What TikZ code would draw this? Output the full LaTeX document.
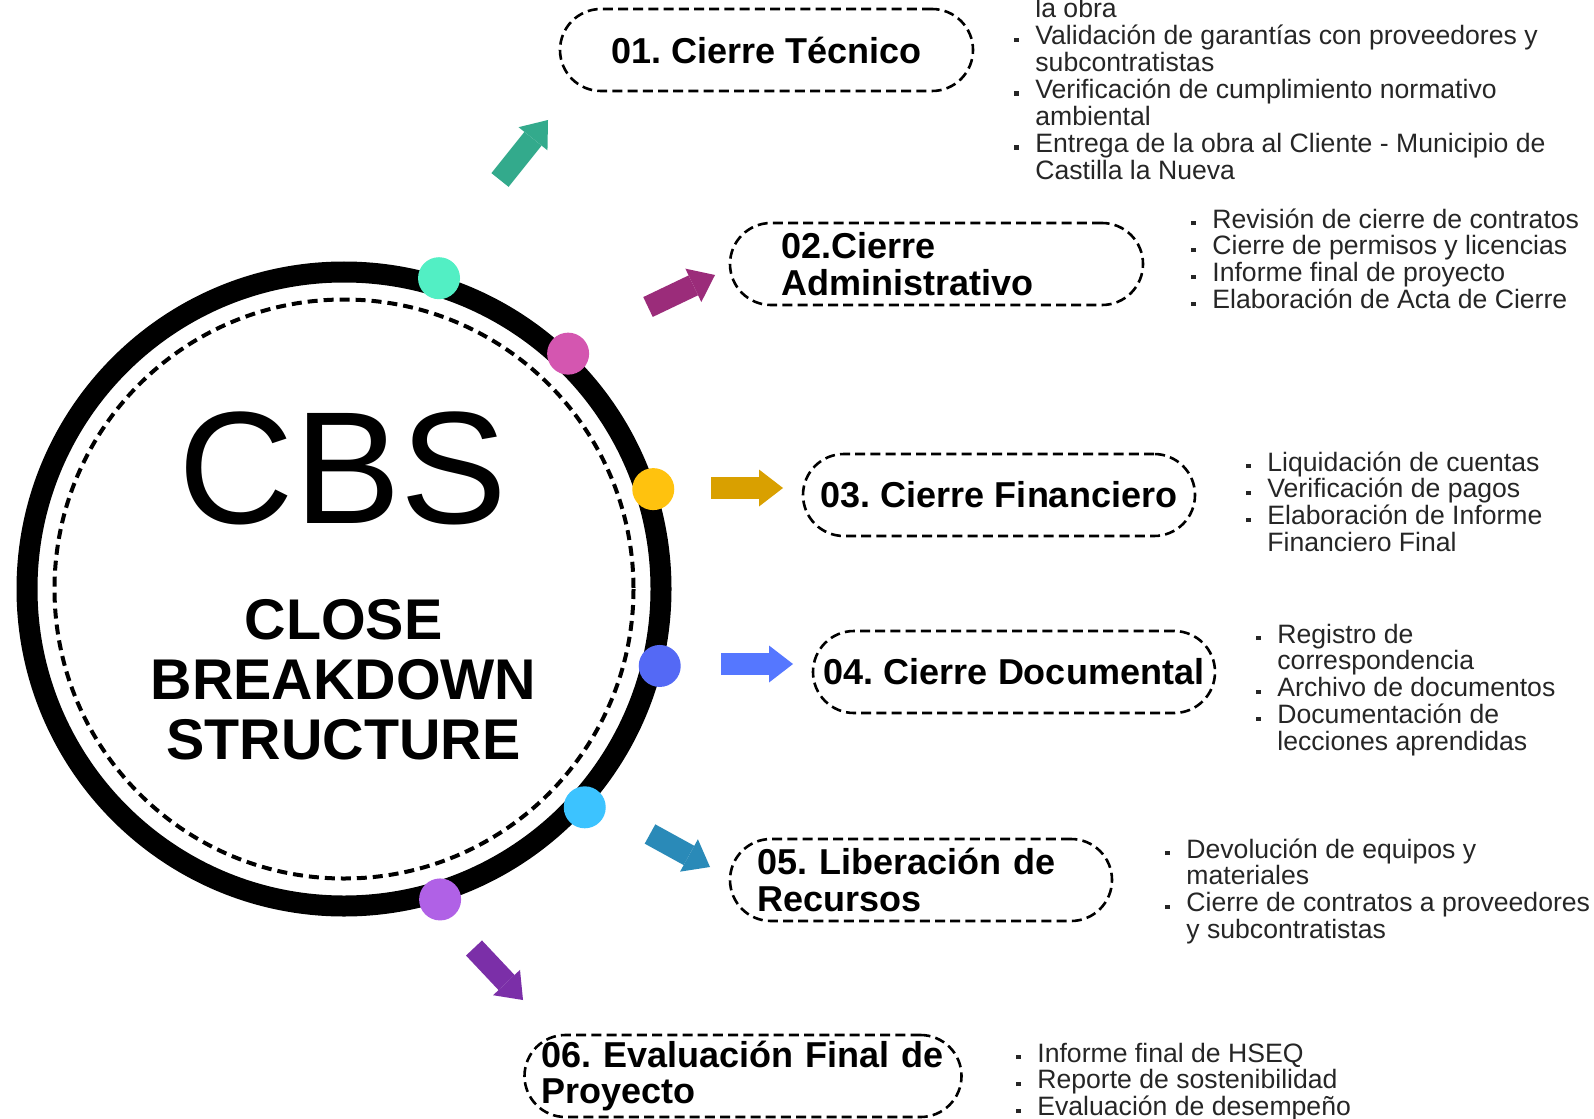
\documentclass[tikz,border=0pt]{standalone}
\usepackage{fontspec}
\setmainfont{Liberation Sans}
\usepackage{graphicx}
\usetikzlibrary{arrows.meta}
\frenchspacing

\definecolor{dotteal}{HTML}{52EFC4}
\definecolor{dotpink}{HTML}{D456B0}
\definecolor{dotgold}{HTML}{FFC20E}
\definecolor{dotblue}{HTML}{5469F5}
\definecolor{dotcyan}{HTML}{3CC3FF}
\definecolor{dotviolet}{HTML}{B061E6}
\definecolor{arrteal}{HTML}{33AA8C}
\definecolor{arrplum}{HTML}{9B2C7A}
\definecolor{arrgold}{HTML}{D9A000}
\definecolor{arrblue}{HTML}{5577FF}
\definecolor{arrsteel}{HTML}{2A8AB8}
\definecolor{arrviolet}{HTML}{7B2FA8}

% list rows: bulleted item and continuation line
\newcommand{\bul}{\makebox[10.5pt][l]{\raisebox{1.4pt}{\rule{2.2pt}{2.2pt}}}}
\newcommand{\itm}[1]{\bul&\smash{#1}}
\newcommand{\cnt}[1]{&\smash{#1}}

\begin{document}
\begin{tikzpicture}[x=0.5pt,y=-0.5pt,
  phase/.style={draw,line width=1.3pt,dash pattern=on 5pt off 2.6pt,rounded corners=20.5pt,
    inner sep=0pt,minimum height=41pt,font=\bfseries\fontsize{18}{18.3}\selectfont},
  tasks/.style={inner sep=0pt,anchor=base west,text=black!85,font=\fontsize{13.3}{13.45}\selectfont},
  dot/.style={circle,fill=#1,minimum size=21pt,inner sep=0pt},
  blk/.style={draw=#1,line width=11pt,-{Triangle[length=12pt,width=18.5pt,line width=0pt]}}]
\useasboundingbox[fill=white] (0,0) rectangle (1594,1118);

% central ring
\coordinate (c) at (344,589);
\draw[line width=10.5pt] (c) circle (317);
\draw[line width=2pt,dash pattern=on 5pt off 3pt] (c) circle (289.5);
\node[anchor=base,font=\fontsize{80}{80}\selectfont] (cbs) at (343,523) {CBS};
\node[align=center,font=\bfseries\fontsize{28.7}{30}\selectfont] (cbsname) at (343.5,680) {CLOSE\\BREAKDOWN\\STRUCTURE};

% dots on the ring
\foreach \a/\col [count=\i] in {-73/dotteal,-46.4/dotpink,-17.9/dotgold,13.7/dotblue,42.2/dotcyan,72.8/dotviolet}
  \node[dot=\col] (d\i) at ([shift={(\a:325)}]c) {};

% block arrows
\coordinate (t1) at (500,180);  \coordinate (h1) at (548,120);
\coordinate (t2) at (648,307);  \coordinate (h2) at (715,275);
\coordinate (t3) at (711,488);  \coordinate (h3) at (783,488);
\coordinate (t4) at (721,664);  \coordinate (h4) at (793,664);
\coordinate (t5) at (650,834);  \coordinate (h5) at (710,867);
\coordinate (t6) at (474,948);  \coordinate (h6) at (523,1000);
\draw[blk=arrteal] (t1) -- (h1);
\draw[blk=arrplum] (t2) -- (h2);
\draw[blk=arrgold] (t3) -- (h3);
\draw[blk=arrblue] (t4) -- (h4);
\draw[blk=arrsteel] (t5) -- (h5);
\draw[blk=arrviolet] (t6) -- (h6);

% phases
\node[phase,minimum width=206.5pt] (p1) at (766.5,50) {01. Cierre Técnico};
\node[phase,minimum width=206.5pt,text width=155.5pt,align=left] (p2) at (936.5,264) {02.Cierre\\Administrativo};
\node[phase,minimum width=196pt] (p3) at (999,495) {03. Cierre Financiero};
\node[phase,minimum width=201pt] (p4) at (1014,672) {04. Cierre Documental};
\node[phase,minimum width=191pt,text width=164pt,align=left] (p5) at (921,880) {05. Liberación de\\Recursos};
\node[phase,minimum width=218.5pt,text width=201.5pt,align=left] (p6) at (743,1076) {06. Evaluación Final de\\Proyecto};

% task lists
\node[tasks] (l1) at (1014,18) {\begin{tabular}[t]{@{}l@{}l@{}}
  \cnt{la obra}\\
  \itm{Validación de garantías con proveedores y}\\
  \cnt{subcontratistas}\\
  \itm{Verificación de cumplimiento normativo}\\
  \cnt{ambiental}\\
  \itm{Entrega de la obra al Cliente - Municipio de}\\
  \cnt{Castilla la Nueva}
\end{tabular}};
\node[tasks] (l2) at (1191,228) {\begin{tabular}[t]{@{}l@{}l@{}}
  \itm{Revisión de cierre de contratos}\\
  \itm{Cierre de permisos y licencias}\\
  \itm{Informe final de proyecto}\\
  \itm{Elaboración de Acta de Cierre}
\end{tabular}};
\node[tasks] (l3) at (1246,471) {\begin{tabular}[t]{@{}l@{}l@{}}
  \itm{Liquidación de cuentas}\\
  \itm{Verificación de pagos}\\
  \itm{Elaboración de Informe}\\
  \cnt{Financiero Final}
\end{tabular}};
\node[tasks] (l4) at (1256,643) {\begin{tabular}[t]{@{}l@{}l@{}}
  \itm{Registro de}\\
  \cnt{correspondencia}\\
  \itm{Archivo de documentos}\\
  \itm{Documentación de}\\
  \cnt{lecciones aprendidas}
\end{tabular}};
\node[tasks] (l5) at (1165,858) {\begin{tabular}[t]{@{}l@{}l@{}}
  \itm{Devolución de equipos y}\\
  \cnt{materiales}\\
  \itm{Cierre de contratos a proveedores}\\
  \cnt{y subcontratistas}
\end{tabular}};
\node[tasks] (l6) at (1016,1062) {\begin{tabular}[t]{@{}l@{}l@{}}
  \itm{Informe final de HSEQ}\\
  \itm{Reporte de sostenibilidad}\\
  \itm{Evaluación de desempeño}
\end{tabular}};
\end{tikzpicture}
\end{document}
